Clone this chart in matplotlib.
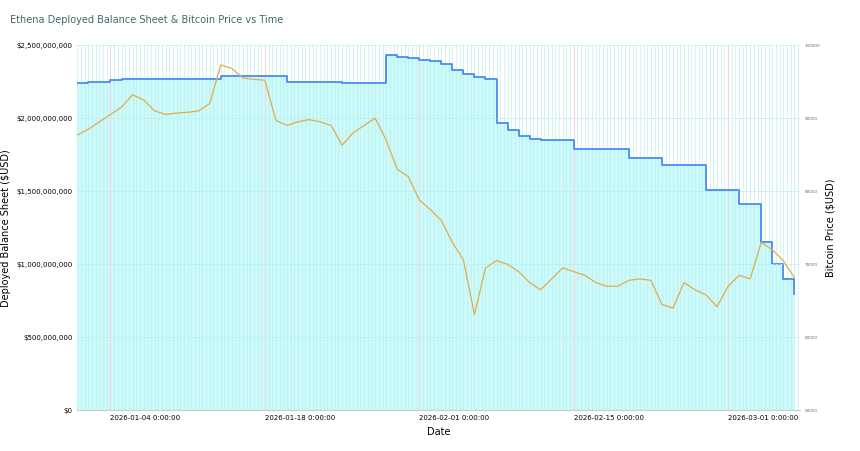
import matplotlib
matplotlib.use("Agg")
import matplotlib.pyplot as plt
import matplotlib.dates as mdates
import numpy as np
import pandas as pd

dates = pd.date_range("2026-01-01", "2026-03-07", freq="D")
btc = [87700, 88500, 89500, 90500, 91500, 93200, 92500, 91000, 90500, 90700, 90800, 91000, 92000, 97300,
       96800, 95500, 95300, 95200, 89700, 89000, 89500, 89800, 89500, 89000, 86300, 88000, 89000, 90000,
       87000, 83000, 82000, 78800, 77500, 76000, 73000, 70600, 63100, 69500, 70500, 70000, 69000, 67500,
       66500, 68000, 69500, 69000, 68500, 67500, 67000, 67000, 67800, 68000, 67800, 64500, 64000, 67500,
       66500, 65800, 64200, 67000, 68500, 68000, 73000, 72000, 70500, 68200]
bal = [2.24, 2.245, 2.25, 2.26, 2.265, 2.27, 2.27, 2.27, 2.27, 2.27, 2.27, 2.27, 2.27, 2.29,
       2.29, 2.29, 2.29, 2.29, 2.29, 2.25, 2.25, 2.25, 2.25, 2.25, 2.24, 2.24, 2.24, 2.24,
       2.43, 2.42, 2.41, 2.40, 2.39, 2.37, 2.33, 2.30, 2.28, 2.27, 1.97, 1.92, 1.88, 1.86,
       1.85, 1.85, 1.85, 1.79, 1.79, 1.79, 1.79, 1.79, 1.73, 1.73, 1.73, 1.68, 1.68, 1.68,
       1.68, 1.51, 1.51, 1.51, 1.41, 1.41, 1.15, 1.00, 0.90, 0.80]
bal = np.array(bal) * 1e9

fig, ax = plt.subplots(figsize=(8.6, 4.51), dpi=100)
fig.subplots_adjust(left=0.09, right=0.93, top=0.90, bottom=0.09)
ax2 = ax.twinx()

ax.fill_between(dates, bal, step="post", color="#ccfafa", lw=0, zorder=1)
ax.step(dates, bal, where="post", color="#3b82f6", lw=1.2, zorder=3)
ax2.plot(dates, btc, color="#e0ad4a", lw=0.9, zorder=4)

ax.set_xlim(pd.Timestamp("2026-01-01"), pd.Timestamp("2026-03-07 12:00"))
ax.set_ylim(0, 2.5e9)
ax2.set_ylim(50000, 100000)
ax.set_yticks(np.arange(0, 2.51e9, 5e8))
ax.set_yticklabels(["$0", "$500,000,000", "$1,000,000,000", "$1,500,000,000", "$2,000,000,000", "$2,500,000,000"], fontsize=5)
ax2.set_yticks(np.arange(50000, 100001, 10000))
ax2.tick_params(axis="y", labelsize=3, colors="#666666", length=0)
ticks = pd.to_datetime(["2026-01-04", "2026-01-18", "2026-02-01", "2026-02-15", "2026-03-01"])
ax.set_xticks(ticks)
ax.set_xticklabels([t.strftime("%Y-%m-%d") + " 0:00:00" for t in ticks], fontsize=5, ha="left")
ax.xaxis.set_minor_locator(mdates.HourLocator(byhour=[0, 8, 16]))
ax.grid(which="minor", axis="x", color="#b5ecec", lw=0.4, zorder=2)
ax.grid(which="major", axis="x", color="#f3d6dc", lw=0.8)
ax2.grid(axis="y", color="#b5ecec", ls="--", lw=0.6)
ax.set_axisbelow(False)
ax.tick_params(which="both", length=0, labelsize=5)
for a in (ax, ax2):
    for s in a.spines.values():
        s.set_visible(False)
ax.spines["bottom"].set_visible(True)
ax.spines["bottom"].set_color("#cccccc")
ax.set_xlabel("Date", fontsize=7)
ax.set_ylabel("Deployed Balance Sheet ($USD)", fontsize=7)
ax2.set_ylabel("Bitcoin Price ($USD)", fontsize=7)
fig.text(0.012, 0.95, "Ethena Deployed Balance Sheet & Bitcoin Price vs Time", fontsize=7, color="#3d6b6b")
fig.savefig("out.png", dpi=100)
